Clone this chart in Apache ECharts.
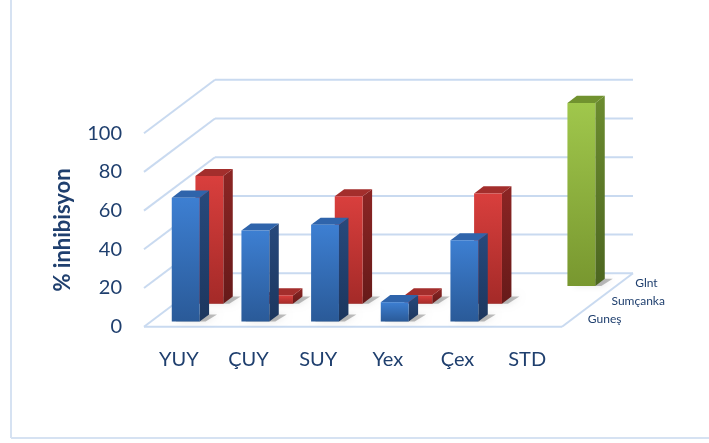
<!DOCTYPE html>
<html>
<head>
<meta charset="utf-8">
<style>
  html, body { margin: 0; padding: 0; background: #ffffff; }
  #chart { width: 709px; height: 443px; }
</style>
<script src="https://cdn.jsdelivr.net/npm/echarts@6/dist/echarts.min.js"></script>
</head>
<body>
<div id="chart"></div>
<script>
// Category labels along the front edge
const categories = ['YUY', 'ÇUY', 'SUY', 'Yex', 'Çex', 'STD'];
// Depth rows, front to back
const rows = ['Guneş', 'Sumçanka', 'Glnt'];
// % inhibisyon per row (null = no bar)
const gunes    = [64, 47, 50, 10, 42, null];
const sumcanka = [66, 4.3, 55.5, 4.3, 57, null];
const glnt     = [null, null, null, null, null, 94.6];
// Value axis ticks
const yTicks = [0, 20, 40, 60, 80, 100];

// Oblique depth vector for the full floor depth (pixels)
const DX = 71, DY = -53.4;
const ROWS = rows.length;
const BAR_W = 0.40;     // share of a category band
const FRONT = 0.29;     // front face position inside a row
const BAR_D = 0.40;     // bar depth inside a row

const LINE = '#C9DAF0';
const TEXT = '#1F3F6E';
const FONT = 'Lato, "Open Sans", sans-serif';

function grad(c0, c1) {
  return new echarts.graphic.LinearGradient(0, 0, 0, 1, [
    { offset: 0, color: c0 }, { offset: 1, color: c1 }
  ]);
}

const palettes = [
  { front: ['#3D7FD2', '#2A5A98'], side: ['#27497C', '#1C365E'], top: '#2F64AB' },
  { front: ['#D93F3D', '#A42A28'], side: ['#8C2524', '#661A19'], top: '#A32E2C' },
  { front: ['#A0C74C', '#78972F'], side: ['#6C8C2F', '#4C6620'], top: '#71922F' }
];

function barRenderer(row) {
  const pal = palettes[row];
  return function (params, api) {
    const cat = api.value(0), val = api.value(1);
    const base = api.coord([cat, 0]);
    const top = api.coord([cat, val]);
    const band = api.size([1, 0])[0];
    const w = band * BAR_W;
    const f = (row + FRONT) / ROWS;
    const d = BAR_D / ROWS;
    const x0 = base[0] - w / 2 + DX * f, x1 = x0 + w;
    const yb = base[1] + DY * f, yt = top[1] + DY * f;
    const ddx = DX * d, ddy = DY * d;
    return {
      type: 'group',
      children: [
        { // soft floor shadow
          type: 'polygon',
          shape: { points: [[x0 + 4, yb], [x1 + 6, yb], [x1 + ddx + 8, yb + ddy], [x0 + ddx + 4, yb + ddy]] },
          style: { fill: 'rgba(0,0,0,0.25)', shadowBlur: 7, shadowColor: 'rgba(0,0,0,0.4)' },
          silent: true
        },
        {
          type: 'polygon',
          shape: { points: [[x1, yt], [x1 + ddx, yt + ddy], [x1 + ddx, yb + ddy], [x1, yb]] },
          style: { fill: grad(pal.side[0], pal.side[1]) }
        },
        {
          type: 'polygon',
          shape: { points: [[x0, yt], [x1, yt], [x1 + ddx, yt + ddy], [x0 + ddx, yt + ddy]] },
          style: { fill: pal.top }
        },
        {
          type: 'rect',
          shape: { x: x0, y: yt, width: w, height: yb - yt },
          style: { fill: grad(pal.front[0], pal.front[1]) }
        }
      ]
    };
  };
}

function toItems(arr) {
  const out = [];
  arr.forEach((v, i) => { if (v != null) out.push([i, v]); });
  return out;
}

// Back wall, side wall and floor lines at each tick
function wallRenderer(params, api) {
  const v = api.value(0);
  const band = api.size([1, 0])[0];
  const p0 = api.coord([0, v]);
  const pN = api.coord([categories.length - 1, v]);
  const L = p0[0] - band / 2, R = pN[0] + band / 2, y = p0[1];
  const st = { stroke: LINE, lineWidth: 2, fill: null };
  const children = [
    { type: 'line', shape: { x1: L, y1: y, x2: L + DX, y2: y + DY }, style: st },
    { type: 'line', shape: { x1: L + DX, y1: y + DY, x2: R + DX, y2: y + DY }, style: st }
  ];
  if (v === 0) {
    children.push({ type: 'line', shape: { x1: L, y1: y, x2: R, y2: y }, style: st });
    children.push({ type: 'line', shape: { x1: R, y1: y, x2: R + DX, y2: y + DY }, style: st });
  }
  return { type: 'group', children: children, silent: true };
}

// Row names along the right floor edge
function rowLabelRenderer(params, api) {
  const r = api.value(0);
  const band = api.size([1, 0])[0];
  const pN = api.coord([categories.length - 1, 0]);
  const R = pN[0] + band / 2;
  const t = (r + 0.5) / ROWS;
  return {
    type: 'text',
    x: R + DX * t + 14,
    y: pN[1] + DY * t + 1,
    style: {
      text: rows[r], fill: TEXT, font: '12px ' + FONT,
      align: 'left', verticalAlign: 'middle'
    },
    silent: true
  };
}

const chart = echarts.init(document.getElementById('chart'), null, { renderer: 'canvas' });
chart.setOption({
  backgroundColor: '#ffffff',
  animation: false,
  grid: { left: 144, right: 147, top: 133.2, bottom: 116.3, containLabel: false },
  xAxis: {
    type: 'category',
    data: categories,
    axisLine: { show: false },
    axisTick: { show: false },
    splitLine: { show: false },
    axisLabel: { color: TEXT, fontSize: 20, fontFamily: FONT, margin: 23 }
  },
  yAxis: {
    type: 'value',
    min: 0, max: 100, interval: 20,
    name: '% inhibisyon',
    nameLocation: 'middle',
    nameRotate: 90,
    nameGap: 70,
    nameTextStyle: { color: TEXT, fontSize: 22, fontWeight: 'bold', fontFamily: FONT },
    axisLine: { show: false },
    axisTick: { show: false },
    splitLine: { show: false },
    axisLabel: { color: TEXT, fontSize: 20, fontFamily: FONT, margin: 22 }
  },
  graphic: [
    { type: 'line', shape: { x1: 11, y1: 0, x2: 11, y2: 438 }, style: { stroke: '#D6E2F2', lineWidth: 2 } },
    { type: 'line', shape: { x1: 11, y1: 438, x2: 709, y2: 438 }, style: { stroke: '#D6E2F2', lineWidth: 2 } }
  ],
  series: [
    { type: 'custom', name: 'walls', data: yTicks.map(v => [v]), encode: { y: 0 }, renderItem: wallRenderer, clip: false, z: 1 },
    { type: 'custom', name: 'rowLabels', data: rows.map((_, i) => [i]), renderItem: rowLabelRenderer, clip: false, z: 1 },
    { type: 'custom', name: rows[2], data: toItems(glnt), encode: { x: 0, y: 1 }, renderItem: barRenderer(2), clip: false, z: 2 },
    { type: 'custom', name: rows[1], data: toItems(sumcanka), encode: { x: 0, y: 1 }, renderItem: barRenderer(1), clip: false, z: 3 },
    { type: 'custom', name: rows[0], data: toItems(gunes), encode: { x: 0, y: 1 }, renderItem: barRenderer(0), clip: false, z: 4 }
  ]
});
</script>
</body>
</html>
